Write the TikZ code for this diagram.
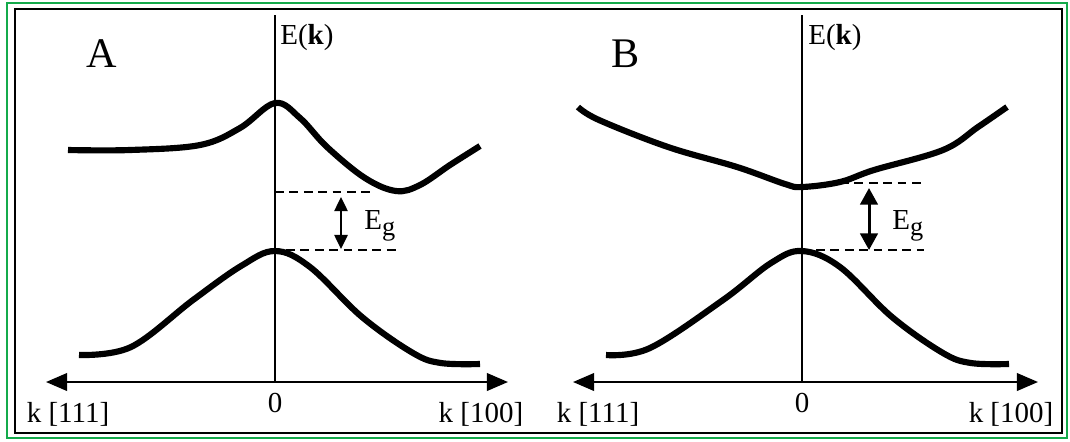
\documentclass[tikz,border=0pt]{standalone}
\usepackage{fontspec}
\setmainfont{Liberation Serif}
\usetikzlibrary{arrows.meta}
\definecolor{framegreen}{RGB}{20,170,75}
\begin{document}
\begin{tikzpicture}[x=0.02cm,y=-0.02cm,
  band/.style={line width=3.5pt, line join=round},
  axisline/.style={line width=1.2pt},
  kaxis/.style={line width=1.2pt, {Triangle[length=12pt,width=10pt]}-{Triangle[length=12pt,width=10pt]}},
  gapline/.style={line width=1.5pt, dash pattern=on 5pt off 3.2pt},
  egarrowA/.style={line width=1.2pt, {Triangle[length=8pt,width=7.5pt]}-{Triangle[length=8pt,width=7.5pt]}},
  egarrowB/.style={line width=1.7pt, {Triangle[length=9.5pt,width=10pt]}-{Triangle[length=9.5pt,width=10pt]}},
  lbl/.style={inner sep=0pt, font=\fontsize{16.5}{19}\selectfont},
  panel/.style={inner sep=0pt, font=\fontsize{24}{28}\selectfont}]
\useasboundingbox (0,0) rectangle (1070,441);
\fill[white] (0,0) rectangle (1070,441);
\draw[framegreen, line width=1.6pt] (7,3) rectangle (1067,438);
\draw[black, line width=1.4pt] (15,9) rectangle (1062,433);

% ---------------- Panel A ----------------
\node[panel] (pA) at (102,54) {A};
\coordinate (aTop) at (275,15);
\coordinate (aBot) at (275,382);
\coordinate (aL) at (46,382);
\coordinate (aR) at (508,382);
\draw[axisline] (aTop) -- (aBot);
\draw[kaxis] (aL) -- (aR);
\node[lbl, anchor=west] (aE) at (280,38) {E(\textbf{k})};
\node[lbl] (a0) at (275,403) {0};
\node[lbl] (aK111) at (68,414) {k [111]};
\node[lbl] (aK100) at (481,414) {k [100]};

\draw[band] plot[smooth, tension=0.6] coordinates {(68,150) (130,150) (200,145) (240,128) (275,103) (300,118) (327,147) (365,178) (396,191) (420,185) (450,165) (480,146)};
\draw[band] plot[smooth, tension=0.6] coordinates {(79,355) (131,347) (193,300) (241,266) (275,251) (310,267) (362,317) (413,353) (441,363) (480,364)};

\coordinate (aU1) at (275,192);
\coordinate (aU2) at (374,192);
\coordinate (aL1) at (286,250);
\coordinate (aL2) at (397,250);
\draw[gapline] (aU1) -- (aU2);
\draw[gapline] (aL1) -- (aL2);
\coordinate (aA1) at (341,197);
\coordinate (aA2) at (341,249);
\draw[egarrowA] (aA1) -- (aA2);
\node[lbl, anchor=west] (aEg) at (364,226) {E\raisebox{-0.45ex}{\fontsize{15}{17}\selectfont g}};

% ---------------- Panel B ----------------
\node[panel] (pB) at (626,54) {B};
\coordinate (bTop) at (802,15);
\coordinate (bBot) at (802,382);
\coordinate (bL) at (573,382);
\coordinate (bR) at (1038,382);
\draw[axisline] (bTop) -- (bBot);
\draw[kaxis] (bL) -- (bR);
\node[lbl, anchor=west] (bE) at (808,38) {E(\textbf{k})};
\node[lbl] (b0) at (802,403) {0};
\node[lbl] (bK111) at (598,414) {k [111]};
\node[lbl] (bK100) at (1011,414) {k [100]};

\draw[band] plot[smooth, tension=0.6] coordinates {(578,107) (599,120) (668,147) (737,167) (785,184) (802,187) (840,182) (874,170) (943,150) (978,127) (1007,107)};
\draw[band] plot[smooth, tension=0.6] coordinates {(606,355) (650,348) (723,300) (771,263) (802,251) (840,267) (892,317) (943,353) (971,363) (1009,364)};

\coordinate (bU1) at (840,183);
\coordinate (bU2) at (924,183);
\coordinate (bL1) at (816,250);
\coordinate (bL2) at (924,250);
\draw[gapline] (bU1) -- (bU2);
\draw[gapline] (bL1) -- (bL2);
\coordinate (bA1) at (869,188);
\coordinate (bA2) at (869,250);
\draw[egarrowB] (bA1) -- (bA2);
\node[lbl, anchor=west] (bEg) at (892,226) {E\raisebox{-0.45ex}{\fontsize{15}{17}\selectfont g}};
\end{tikzpicture}
\end{document}
